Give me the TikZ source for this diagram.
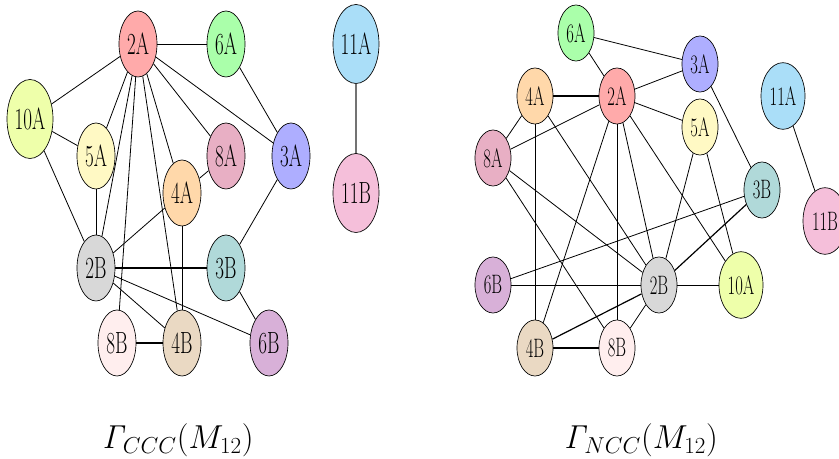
\documentclass[tikz,border=0pt]{standalone}
\usepackage{graphicx}
\usetikzlibrary{shapes.geometric}
\pgfdeclarelayer{bg}
\pgfsetlayers{bg,main}
\definecolor{c2A}{HTML}{FFAAAA}
\definecolor{c6A}{HTML}{AAFFAA}
\definecolor{c3A}{HTML}{AEAEFF}
\definecolor{c11A}{HTML}{AADEF8}
\definecolor{c10A}{HTML}{EEFFAA}
\definecolor{c5A}{HTML}{FFF9C4}
\definecolor{c8A}{HTML}{E8AFC4}
\definecolor{c4A}{HTML}{FFD8AA}
\definecolor{c11B}{HTML}{F5BFDA}
\definecolor{c2B}{HTML}{D8D8D8}
\definecolor{c3B}{HTML}{B0D9D9}
\definecolor{c8B}{HTML}{FFEEEE}
\definecolor{c4B}{HTML}{EAD9C3}
\definecolor{c6B}{HTML}{D8B0D8}
\newcommand{\nl}[1]{\scalebox{0.62}[1]{#1}}
\tikzset{
  vbase/.style={ellipse, draw=black, line width=0.5pt, inner sep=0pt},
  lv/.style={vbase, minimum width=28.5pt, minimum height=49.5pt, font=\fontsize{23}{27}\selectfont},
  lvv/.style={vbase, minimum width=34.5pt, minimum height=59.25pt, font=\fontsize{23}{27}\selectfont},
  rv/.style={vbase, minimum width=27pt, minimum height=42pt, font=\fontsize{20}{24}\selectfont},
  rvv/.style={vbase, minimum width=33pt, minimum height=50pt, font=\fontsize{20}{24}\selectfont},
  gline/.style={line width=0.6pt},
  hline/.style={line width=0.9pt},
  grline/.style={line width=1pt, draw=black!55},
  captext/.style={font=\fontsize{25}{30}\selectfont}
}
\begin{document}
\begin{tikzpicture}[x=0.75pt, y=-0.75pt]
\useasboundingbox (0,0) rectangle (839,459);
% left graph
\node[lv, fill=c2A] (l2A) at (138,44) {\nl{2A}};
\node[lv, fill=c6A] (l6A) at (226,44) {\nl{6A}};
\node[lvv, fill=c11A] (l11A) at (356,44) {\nl{11A}};
\node[lvv, fill=c10A] (l10A) at (30,119) {\nl{10A}};
\node[lv, fill=c5A] (l5A) at (96,156) {\nl{5A}};
\node[lv, fill=c8A] (l8A) at (226,156) {\nl{8A}};
\node[lv, fill=c3A] (l3A) at (291,156) {\nl{3A}};
\node[lv, fill=c4A] (l4A) at (182,193) {\nl{4A}};
\node[lvv, fill=c11B] (l11B) at (356,193) {\nl{11B}};
\node[lv, fill=c2B] (l2B) at (96,268) {\nl{2B}};
\node[lv, fill=c3B] (l3B) at (226,268) {\nl{3B}};
\node[lv, fill=c8B] (l8B) at (117,343) {\nl{8B}};
\node[lv, fill=c4B] (l4B) at (182,343) {\nl{4B}};
\node[lv, fill=c6B] (l6B) at (269,343) {\nl{6B}};
% right graph
\node[rv, fill=c6A] (r6A) at (576,33) {\nl{6A}};
\node[rv, fill=c3A] (r3A) at (700,64) {\nl{3A}};
\node[rvv, fill=c11A] (r11A) at (783,96) {\nl{11A}};
\node[rv, fill=c4A] (r4A) at (535,96) {\nl{4A}};
\node[rv, fill=c2A] (r2A) at (617,96) {\nl{2A}};
\node[rv, fill=c5A] (r5A) at (700,127) {\nl{5A}};
\node[rv, fill=c8A] (r8A) at (493,158) {\nl{8A}};
\node[rv, fill=c3B] (r3B) at (762,190) {\nl{3B}};
\node[rvv, fill=c11B] (r11B) at (825,221) {\nl{11B}};
\node[rv, fill=c6B] (r6B) at (493,285) {\nl{6B}};
\node[rv, fill=c2B] (r2B) at (659,285) {\nl{2B}};
\node[rvv, fill=c10A] (r10A) at (741,285) {\nl{10A}};
\node[rv, fill=c4B] (r4B) at (535,348) {\nl{4B}};
\node[rv, fill=c8B] (r8B) at (617,348) {\nl{8B}};
% captions
\node[captext] (capL) at (178,440) {$\mathit{\Gamma}_{CCC}(M_{12})$};
\node[captext] (capR) at (641,440) {$\mathit{\Gamma}_{NCC}(M_{12})$};
\begin{pgfonlayer}{bg}
% left edges
\foreach \a/\b in {l2A/l6A, l2A/l10A, l2A/l5A, l2A/l2B, l2A/l8B, l2A/l4B, l2A/l4A, l2A/l8A, l2A/l3A,
  l6A/l3A, l10A/l5A, l10A/l2B, l5A/l2B, l8A/l4A, l4A/l2B, l4A/l4B, l3A/l3B, l2B/l4B, l2B/l6B, l3B/l6B}
  \draw[gline] (\a) -- (\b);
\draw[hline] (l2B) -- (l3B);
\draw[hline] (l8B) -- (l4B);
\draw[grline] (l11A) -- (l11B);
% right edges
\foreach \a/\b in {r6A/r3A, r6A/r2A, r2A/r3A, r2A/r5A, r2A/r8A, r4A/r8A, r4A/r4B, r4A/r2B, r3A/r3B,
  r8A/r2B, r8A/r8B, r2A/r4B, r2A/r8B, r2A/r2B, r2A/r10A, r5A/r2B, r5A/r10A, r3B/r6B, r6B/r2B, r2B/r10A, r8B/r2B}
  \draw[gline] (\a) -- (\b);
\draw[hline] (r4A) -- (r2A);
\draw[hline] (r3B) -- (r2B);
\draw[hline] (r4B) -- (r2B);
\draw[hline] (r4B) -- (r8B);
\draw[gline] (r11A) -- (r11B);
\end{pgfonlayer}
\end{tikzpicture}
\end{document}
